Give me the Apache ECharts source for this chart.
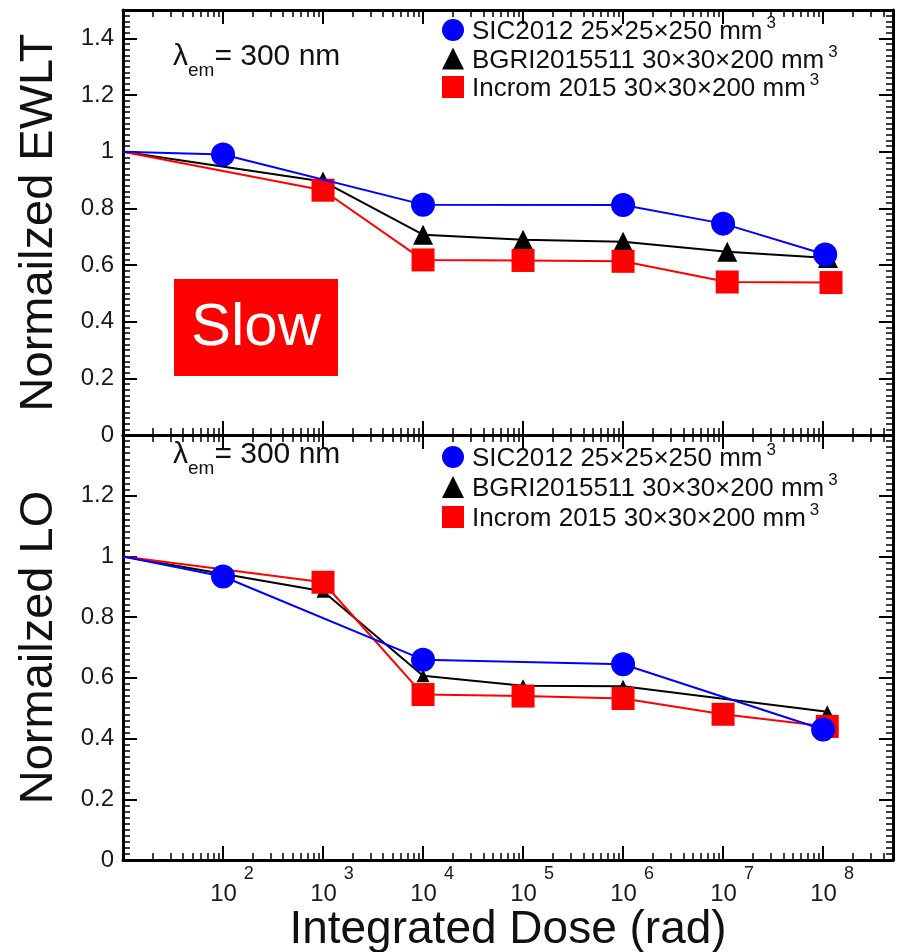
<!DOCTYPE html>
<html>
<head>
<meta charset="utf-8">
<script src="https://cdn.jsdelivr.net/npm/echarts@6/dist/echarts.min.js"></script>
<style>
html, body { margin: 0; padding: 0; background: #fff; }
#chart { width: 900px; height: 952px; }
</style>
</head>
<body>
<div id="chart"></div>
<script>
// legend names (the superscript 3 is added by the formatter)
const seriesNames = ['SIC2012 25×25×250 mm', 'BGRI2015511 30×30×200 mm', 'Incrom 2015 30×30×200 mm']

// x tick labels shown as 10^n
const xLabelExponents = [2, 3, 4, 5, 6, 7, 8]
// y tick labels
const yTicksEWLT = [0, 0.2, 0.4, 0.6, 0.8, 1, 1.2, 1.4]
const yTicksLO = [0, 0.2, 0.4, 0.6, 0.8, 1, 1.2]

// top panel: Normalized EWLT
const sicDoseE = [10, 100, 1e4, 1e6, 1e7, 1.05e8]
const sicEWLT = [1.0, 0.99, 0.813, 0.812, 0.746, 0.637]
const bgriDoseE = [10, 1e3, 1e4, 1e5, 1e6, 1.1e7, 1.12e8]
const bgriEWLT = [1.0, 0.895, 0.707, 0.689, 0.682, 0.647, 0.625]
const incDoseE = [10, 1e3, 1e4, 1e5, 1e6, 1.1e7, 1.2e8]
const incEWLT = [1.0, 0.864, 0.618, 0.616, 0.613, 0.54, 0.538]

// bottom panel: Normalized LO
const sicDoseL = [10, 100, 1e4, 1e6, 1e8]
const sicLO = [1.0, 0.934, 0.66, 0.645, 0.43]
const bgriDoseL = [10, 1e3, 1e4, 1e5, 1e6, 1.1e8]
const bgriLO = [1.0, 0.885, 0.607, 0.574, 0.572, 0.488]
const incDoseL = [10, 1e3, 1e4, 1e5, 1e6, 1e7, 1.1e8]
const incLO = [1.0, 0.915, 0.545, 0.54, 0.532, 0.48, 0.44]

const FONT = '"Liberation Sans", Arial, Helvetica, sans-serif'
const BLUE = '#0000ff'
const RED = '#ff0000'
const BLACK = '#000000'

function pts(doses, vals) {
  // first point (unirradiated) has no marker in the original
  return doses.map((d, i) => (i === 0 ? { value: [d, vals[i]], symbolSize: 0 } : [d, vals[i]]))
}

function xAxisFor(gridIndex, position, withLabels) {
  const axis = {
    type: 'log',
    logBase: 10,
    gridIndex,
    position,
    min: 10,
    max: 5e8,
    splitNumber: 8,
    axisLine: { show: true, onZero: false, lineStyle: { color: BLACK, width: 3 } },
    axisTick: { show: true, inside: true, length: 14, lineStyle: { color: BLACK, width: 2 } },
    minorTick: { show: true, splitNumber: 9, length: 7, lineStyle: { color: BLACK, width: 1.5 } },
    splitLine: { show: false },
    axisLabel: { show: false }
  }
  if (withLabels) {
    axis.axisLabel = {
      show: true,
      margin: 5,
      interval: 0,
      formatter: (v) => {
        const lg = Math.log10(v)
        const e = Math.round(lg)
        if (Math.abs(lg - e) > 1e-6 || !xLabelExponents.includes(e)) return ''
        return '{sp| }{b|10}{e|' + e + '}'
      },
      rich: {
        sp: { width: 18, fontSize: 24, lineHeight: 18, verticalAlign: 'top' },
        b: { fontSize: 24, lineHeight: 41, verticalAlign: 'bottom', color: '#1a1a1a', fontFamily: FONT },
        e: { fontSize: 18, lineHeight: 18, verticalAlign: 'top', padding: [0, 0, 0, 7], color: '#1a1a1a', fontFamily: FONT }
      }
    }
    axis.name = 'Integrated Dose (rad)'
    axis.nameLocation = 'middle'
    axis.nameGap = 46
    axis.nameTextStyle = { fontSize: 46, color: '#111', fontFamily: FONT }
  }
  return axis
}

function yAxisFor(gridIndex, position, max, labels, name) {
  const axis = {
    type: 'value',
    gridIndex,
    position,
    min: 0,
    max,
    interval: 0.2,
    axisLine: { show: true, onZero: false, lineStyle: { color: BLACK, width: 3 } },
    axisTick: { show: true, inside: true, length: 14, lineStyle: { color: BLACK, width: 2 } },
    minorTick: { show: true, splitNumber: 10, length: 7, lineStyle: { color: BLACK, width: 1.5 } },
    splitLine: { show: false },
    axisLabel: { show: false }
  }
  if (labels) {
    axis.axisLabel = {
      show: true,
      margin: 9,
      fontSize: 24,
      color: '#1a1a1a',
      fontFamily: FONT,
      formatter: (v) => {
        const r = Math.round(v * 10) / 10
        return labels.some((t) => Math.abs(t - r) < 1e-9) && Math.abs(v - r) < 1e-9 ? String(r) : ''
      }
    }
    axis.name = name
    axis.nameLocation = 'middle'
    axis.nameGap = 60
    axis.nameTextStyle = { fontSize: 47, color: '#111', fontFamily: FONT }
  }
  return axis
}

function lineSeries(name, idx, doses, vals, color, symbol, size, z) {
  return {
    name,
    type: 'line',
    xAxisIndex: idx,
    yAxisIndex: idx,
    data: pts(doses, vals),
    symbol,
    symbolSize: size,
    showAllSymbol: true,
    lineStyle: { color, width: 2 },
    itemStyle: { color, opacity: 1 },
    z,
    animation: false
  }
}

function legendFor(top, gap) {
  return {
    orient: 'vertical',
    left: 437,
    top,
    itemWidth: 22,
    itemHeight: 22,
    itemGap: gap,
    selectedMode: false,
    data: [
      { name: seriesNames[0], icon: 'circle' },
      { name: seriesNames[1], icon: 'triangle' },
      { name: seriesNames[2], icon: 'rect' }
    ],
    formatter: (n) => '{t|' + n + '}{s|3}',
    textStyle: {
      rich: {
        t: { fontSize: 26, lineHeight: 30, verticalAlign: 'bottom', padding: [0, 0, 0, 3], color: '#111', fontFamily: FONT },
        s: { fontSize: 17, lineHeight: 10, verticalAlign: 'top', padding: [0, 0, 0, 4], color: '#111', fontFamily: FONT }
      }
    }
  }
}

function lambdaText(y) {
  return {
    type: 'text',
    left: 173,
    top: y,
    z: 10,
    style: {
      text: '{l|λ}{s|em}{n|= 300 nm}',
      rich: {
        l: { fontSize: 30, lineHeight: 30, verticalAlign: 'top', fill: '#111', fontFamily: FONT },
        s: { fontSize: 19, lineHeight: 38, verticalAlign: 'bottom', fill: '#111', fontFamily: FONT },
        n: { fontSize: 30, lineHeight: 30, verticalAlign: 'top', fill: '#111', fontFamily: FONT }
      }
    }
  }
}

const chart = echarts.init(document.getElementById('chart'))

chart.setOption({
  backgroundColor: '#fff',
  animation: false,
  grid: [
    { left: 123, right: 7, top: 10, height: 425, outerBoundsMode: 'none' },
    { left: 123, right: 7, top: 435, height: 425, outerBoundsMode: 'none' }
  ],
  xAxis: [
    xAxisFor(0, 'bottom', false),
    xAxisFor(0, 'top', false),
    xAxisFor(1, 'bottom', true),
    xAxisFor(1, 'top', false)
  ],
  yAxis: [
    yAxisFor(0, 'left', 1.5, yTicksEWLT, 'Normailzed EWLT'),
    yAxisFor(0, 'right', 1.5, null),
    yAxisFor(1, 'left', 1.4, yTicksLO, 'Normailzed LO'),
    yAxisFor(1, 'right', 1.4, null)
  ],
  legend: [legendFor(10, -1.5), legendFor(437, 0)],
  graphic: [
    { type: 'rect', shape: { x: 174, y: 279, width: 164, height: 97 }, style: { fill: RED }, z: 5 },
    {
      type: 'text',
      x: 256,
      y: 328,
      z: 6,
      style: { text: 'Slow', fontSize: 60, fill: '#fff', fontFamily: FONT, align: 'center', verticalAlign: 'middle' }
    },
    lambdaText(42),
    lambdaText(440)
  ],
  series: [
    lineSeries(seriesNames[1], 0, bgriDoseE, bgriEWLT, BLACK, 'triangle', 20, 2),
    lineSeries(seriesNames[2], 0, incDoseE, incEWLT, RED, 'rect', 23, 3),
    lineSeries(seriesNames[0], 0, sicDoseE, sicEWLT, BLUE, 'circle', 24, 4),
    lineSeries(seriesNames[1], 2, bgriDoseL, bgriLO, BLACK, 'triangle', 13, 2),
    lineSeries(seriesNames[2], 2, incDoseL, incLO, RED, 'rect', 23, 3),
    lineSeries(seriesNames[0], 2, sicDoseL, sicLO, BLUE, 'circle', 24, 4)
  ]
})

window.addEventListener('resize', () => chart.resize())
</script>
</body>
</html>
